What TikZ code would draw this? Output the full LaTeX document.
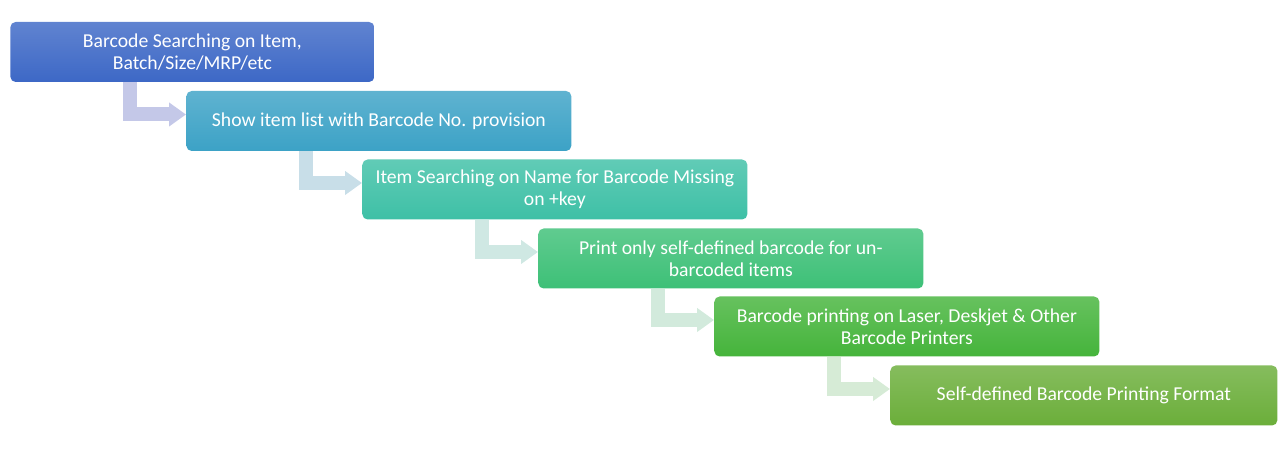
\documentclass[tikz,border=0pt]{standalone}
\usepackage{fontspec}
\setmainfont{Carlito}
\usetikzlibrary{arrows.meta}
\definecolor{stepA}{HTML}{3D68C6}
\definecolor{stepB}{HTML}{3CA2C6}
\definecolor{stepC}{HTML}{3EC0A6}
\definecolor{stepD}{HTML}{3DC077}
\definecolor{stepE}{HTML}{45B43B}
\definecolor{stepF}{HTML}{6BAE3A}
\definecolor{linkA}{HTML}{C4C8E8}
\definecolor{linkB}{HTML}{C8DEE8}
\definecolor{linkC}{HTML}{CFE8E3}
\definecolor{linkD}{HTML}{D2EADC}
\definecolor{linkE}{HTML}{D6EBD6}

\begin{document}
\begin{tikzpicture}[box/.style={rectangle, rounded corners=3pt, anchor=west, minimum height=1.2cm, minimum width=7.7cm, align=center, text=white, font=\fontsize{11.2}{12.6}\selectfont},
	link/.style={line width=0.28cm, line join=miter, -{Triangle[width=0.46cm, length=0.34cm]}}]
			\useasboundingbox (0,0) rectangle (25.6,9.1);
			\node[box, minimum width=7.28cm, top color=stepA!82!white, bottom color=stepA] (search) at (0.2,8.06){Barcode Searching on Item,\\Batch/Size/MRP/etc};
			\node[box, top color=stepB!82!white, bottom color=stepB] (list) at (3.72,6.68){Show item list with Barcode No. provision};
			\node[box, top color=stepC!82!white, bottom color=stepC] (name) at (7.24,5.31){Item Searching on Name for Barcode Missing\\on +key};
			\node[box, top color=stepD!82!white, bottom color=stepD] (print) at (10.76,3.93){Print only self-defined barcode for un-\\barcoded items};
			\node[box, top color=stepE!82!white, bottom color=stepE] (laser) at (14.28,2.57){Barcode printing on Laser, Deskjet \& Other\\Barcode Printers};
			\node[box, minimum width=7.74cm, top color=stepF!82!white, bottom color=stepF] (format) at (17.8,1.19){Self-defined Barcode Printing Format};
			
			\draw[link, linkA] ([xshift=-1.12cm]list.west |- search.south) |- ([yshift=0.13cm]list.west);
			\draw[link, linkB] ([xshift=-1.12cm]name.west |- list.south) |- ([yshift=0.13cm]name.west);
			\draw[link, linkC] ([xshift=-1.12cm]print.west |- name.south) |- ([yshift=0.13cm]print.west);
			\draw[link, linkD] ([xshift=-1.12cm]laser.west |- print.south) |- ([yshift=0.13cm]laser.west);
			\draw[link, linkE] ([xshift=-1.12cm]format.west |- laser.south) |- ([yshift=0.13cm]format.west);
			\end{tikzpicture}
\end{document}
